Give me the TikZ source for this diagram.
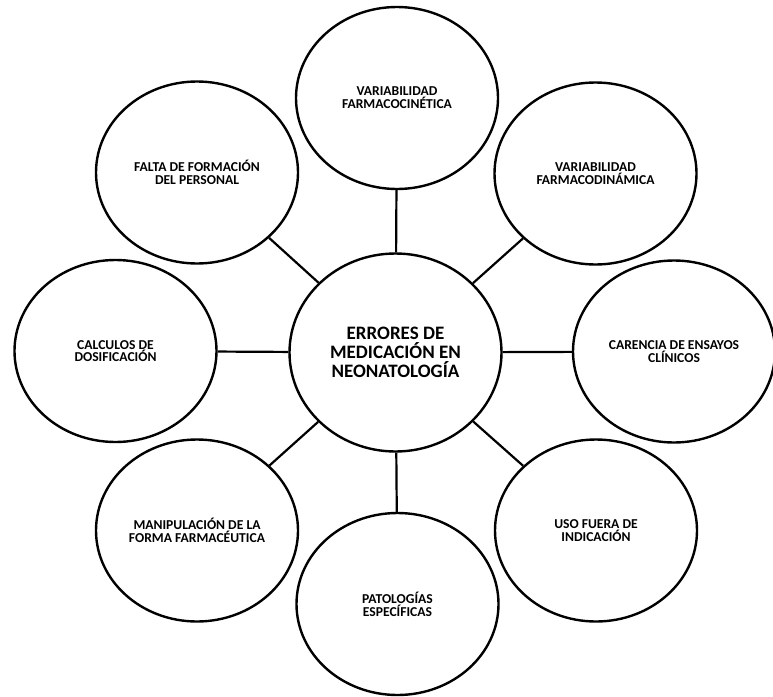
\documentclass[tikz,border=0pt]{standalone}
\usepackage{fontspec}
\setmainfont{Carlito}
\usetikzlibrary{shapes.geometric}
\newcommand\fixedlines{\lineskiplimit=-20pt\relax}
\begin{document}
\begin{tikzpicture}[x=1pt,y=-1pt,
  bubble/.style={ellipse,draw=black,line width=2.4pt,inner sep=0pt,
    minimum width=202pt,minimum height=182pt,align=center,
    font=\fontsize{13.6}{12.8}\selectfont\bfseries\fixedlines},
  hub/.style={bubble,minimum width=212pt,minimum height=198pt,
    font=\fontsize{19}{19}\selectfont\bfseries\fixedlines},
  link/.style={draw=black,line width=2.2pt}]
\useasboundingbox (0,0) rectangle (773,696);
% central topic
\node[hub] (c) at (395.5,352.5) {ERRORES DE\\MEDICACIÓN EN\\NEONATOLOGÍA};
% surrounding causes
\node[bubble] (t)  at (397,98)     {VARIABILIDAD\\FARMACOCINÉTICA};
\node[bubble] (tr) at (595.5,173.5){VARIABILIDAD\\FARMACODINÁMICA};
\node[bubble] (r)  at (674,351.5)  {CARENCIA DE ENSAYOS\\CLÍNICOS};
\node[bubble] (br) at (596,530.5)  {USO FUERA DE\\INDICACIÓN};
\node[bubble] (b)  at (397.5,604)  {PATOLOGÍAS\\ESPECÍFICAS};
\node[bubble] (bl) at (197,530.5)  {MANIPULACIÓN DE LA\\FORMA FARMACÉUTICA};
\node[bubble] (l)  at (115.5,351)  {CALCULOS DE\\DOSIFICACIÓN};
\node[bubble] (tl) at (197,172.5)  {FALTA DE FORMACIÓN\\DEL PERSONAL};
% spokes
\foreach \n in {t,tr,r,br,b,bl,l,tl}
  \path[link] (c) -- (\n);
\end{tikzpicture}
\end{document}
